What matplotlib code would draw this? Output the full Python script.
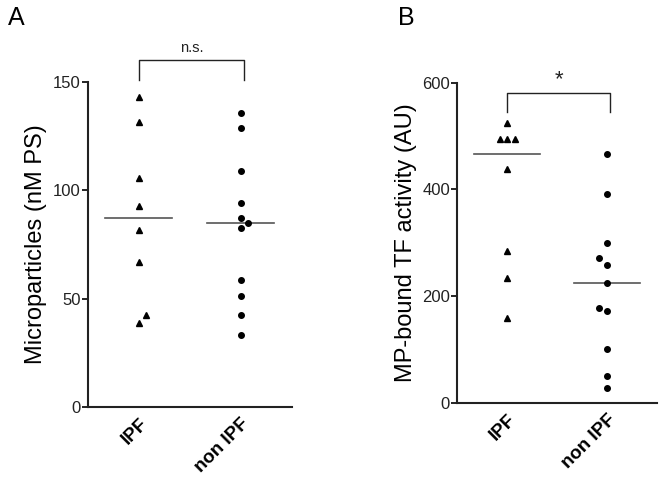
import numpy as np
import matplotlib.pyplot as plt

plt.rcParams['font.family'] = ['Liberation Sans', 'DejaVu Sans']

groups = ['IPF', 'non IPF']

# panel A: microparticles (nM PS)
mp_ipf = [142.8, 131.3, 105.8, 92.9, 81.8, 67.1, 42.4, 39.0]
mp_ipf_dx = [0, 0, 0, 0, 0, 0, 0.076, 0]
mp_non = [135.6, 128.7, 108.7, 94.2, 87.1, 85.1, 82.8, 58.5, 51.4, 42.4, 33.3]
mp_non_dx = [0, 0, 0, 0, 0, 0.075, 0, 0, 0, 0, 0]

# panel B: MP-bound TF activity (AU)
tf_ipf = [525, 494, 494, 494, 437.5, 284, 234, 158]
tf_ipf_dx = [0, -0.066, 0, 0.076, 0, 0, 0, 0]
tf_non = [465.6, 391.3, 300, 272, 258, 224.4, 177, 172.5, 101.3, 50, 28]
tf_non_dx = [0, 0, 0, -0.082, 0, 0, -0.082, 0, 0, 0, 0]

fig = plt.figure(figsize=(6.64, 4.82), dpi=100)
axA = fig.add_axes([0.132, 0.155, 0.3073, 0.6755])
axB = fig.add_axes([0.6883, 0.1646, 0.3012, 0.6638])

def panel(ax, ipf, ipf_dx, non, non_dx, ymax, yticks, ylabel, sig, br_lo, br_hi, txt_y, txt_size):
    ax.plot(np.array(ipf_dx), ipf, ls='none', marker='^', ms=3.7, color='black', clip_on=False)
    ax.plot(1 + np.array(non_dx), non, ls='none', marker='o', ms=4.0, color='black', clip_on=False)
    for i, vals in enumerate([ipf, non]):
        m = np.median(vals)
        ax.plot([i - 0.33, i + 0.33], [m, m], color='#555555', lw=1.2, zorder=1)
    ax.set_xlim(-0.5, 1.5)
    ax.set_ylim(0, ymax)
    ax.set_yticks(yticks)
    ax.set_xticks([0, 1])
    ax.set_xticklabels(groups, rotation=45, ha='right', rotation_mode='anchor',
                       fontsize=13.5, fontweight='bold')
    ax.tick_params(axis='x', length=0, pad=6)
    ax.tick_params(axis='y', length=4, width=1.2, pad=1, labelsize=12, labelcolor='#222222')
    for s in ['top', 'right']:
        ax.spines[s].set_visible(False)
    for s in ['left', 'bottom']:
        ax.spines[s].set_linewidth(1.5)
        ax.spines[s].set_color('#222222')
    ax.set_ylabel(ylabel, fontsize=17, labelpad=4)
    ax.plot([0, 0, 1.03, 1.03], [br_lo, br_hi, br_hi, br_lo], color='#222222', lw=1.0, clip_on=False)
    ax.text(0.52, txt_y, sig, ha='center', va='center', fontsize=txt_size, color='#222222')

panel(axA, mp_ipf, mp_ipf_dx, mp_non, mp_non_dx, 150, [0, 50, 100, 150],
      'Microparticles (nM PS)', 'n.s.', 150.8, 159.9, 165.5, 10.5)
panel(axB, tf_ipf, tf_ipf_dx, tf_non, tf_non_dx, 600, [0, 200, 400, 600],
      'MP-bound TF activity (AU)', '*', 545, 581, 605, 16)

fig.text(0.012, 0.962, 'A', fontsize=18, va='center', ha='left')
fig.text(0.6, 0.962, 'B', fontsize=18, va='center', ha='left')

fig.savefig('out.png', dpi=100)
